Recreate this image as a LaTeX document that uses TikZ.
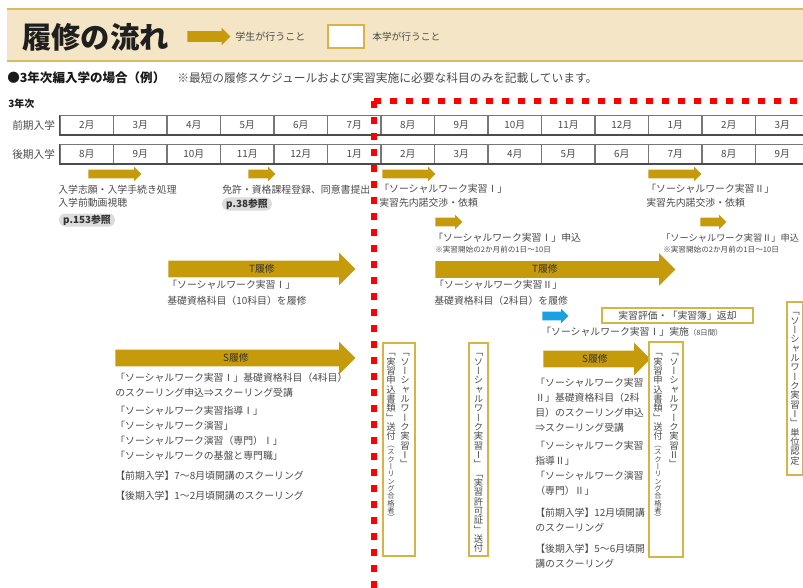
\documentclass[tikz,border=0pt]{standalone}
\usepackage{fontspec}
\setmainfont{Noto Sans CJK JP}
\newfontfamily\vjp[RawFeature=+vert]{Noto Sans CJK JP}
\usetikzlibrary{shapes.arrows}
\definecolor{gold}{HTML}{C59B0B}
\definecolor{boxgold}{HTML}{D8B447}
\definecolor{headbg}{HTML}{F3E5C5}
\definecolor{headline}{HTML}{D8BA62}
\definecolor{txtgray}{HTML}{4A4A4A}
\definecolor{cellgray}{HTML}{777777}
\definecolor{skyblue}{HTML}{1BA1E2}
\definecolor{pillgray}{HTML}{DCDCDC}
\definecolor{dotred}{HTML}{FF0000}
\newdimen\vcw
\vcw=7.2pt
\def\vstackloop#1{\ifx\relax#1\else\hbox to\vcw{\hss\rule[-0.12em]{0pt}{1em}#1\hss}\expandafter\vstackloop\fi}
\newcommand\vstk[1]{\vstackloop#1\relax}
\tikzset{
  txt/.style={anchor=west,inner sep=0pt,text=txtgray,font=\fontsize{7.4}{11.25}\selectfont,align=left},
  smalltxt/.style={anchor=west,inner sep=0pt,text=txtgray,font=\fontsize{5.7}{7}\selectfont},
  cell/.style={draw=cellgray,line width=0.9pt,minimum width=40.125pt,minimum height=14.25pt,inner sep=0pt,text=txtgray,font=\fontsize{7.4}{9}\selectfont},
  sarrow/.style={single arrow,fill=gold,draw=none,inner xsep=0pt,inner ysep=3pt,anchor=tail,minimum width=10.5pt,single arrow head extend=2.25pt},
  barrow/.style={single arrow,fill=gold,draw=none,inner xsep=0pt,inner ysep=6pt,anchor=tail,minimum width=24pt,single arrow head extend=6pt},
  arrtxt/.style={inner sep=0pt,text=black!80,font=\fontsize{7.4}{9}\selectfont},
  pill/.style={fill=pillgray,rounded corners=4pt,inner xsep=3pt,inner ysep=0pt,minimum height=9.75pt,text=black!80,font=\bfseries\fontsize{7.4}{9}\selectfont},
  goldbox/.style={draw=boxgold,line width=1.2pt,inner sep=0pt},
  vcol/.style={anchor=north,inner sep=0pt,text=txtgray,font=\vjp\fontsize{7}{7}\selectfont},
}
\begin{document}
\begin{tikzpicture}[x=0.75pt,y=-0.75pt]
\useasboundingbox (0,0) rectangle (803,588);
% header band
\fill[headbg] (7,9) rectangle (803,61);
\draw[headline,line width=1.5pt] (7,9) -- (803,9);
\draw[headline,line width=1.5pt] (7,61) -- (803,61);
\node[anchor=west,inner sep=0pt,font=\bfseries\fontsize{22}{24}\selectfont,text=black!88] (title) at (22,37) {履修の流れ};
\node[single arrow,fill=gold,draw=none,inner xsep=0pt,inner ysep=3.75pt,anchor=tail,minimum width=12.75pt,single arrow head extend=2.6pt,minimum height=32.25pt] (legarrow) at (187,36.5) {};
\node[anchor=west,inner sep=0pt,text=txtgray,font=\fontsize{7.5}{9}\selectfont] (legstudent) at (235,37) {学生が行うこと};
\node[draw=boxgold,fill=white,line width=1.5pt,minimum width=27pt,minimum height=17.25pt,inner sep=0pt] (legbox) at (346,36.5) {};
\node[anchor=west,inner sep=0pt,text=txtgray,font=\fontsize{7.3}{9}\selectfont] (leguniv) at (372,37) {本学が行うこと};
% subtitle
\node[anchor=west,inner sep=0pt,text=black!90,font=\bfseries\fontsize{9.4}{11}\selectfont] (case) at (7,78) {●3年次編入学の場合（例）};
\node[anchor=west,inner sep=0pt,text=txtgray,font=\fontsize{8.8}{11}\selectfont] (note) at (177,78) {※最短の履修スケジュールおよび実習実施に必要な科目のみを記載しています。};
\node[anchor=west,inner sep=0pt,text=black!90,font=\bfseries\fontsize{7.5}{9}\selectfont] (year) at (8,104) {3年次};
\node[anchor=west,inner sep=0pt,text=txtgray,font=\fontsize{8}{9}\selectfont] (zenki) at (12,125) {前期入学};
\node[anchor=west,inner sep=0pt,text=txtgray,font=\fontsize{8}{9}\selectfont] (kouki) at (12,154) {後期入学};
% month rows
\foreach \i/\m in {0/2,1/3,2/4,3/5,4/6,5/7,6/8,7/9,8/10,9/11,10/12,11/1,12/2,13/3}
  \node[cell] (a\i) at ({60+53.5*(\i+0.5)},125) {\m 月};
\foreach \i/\m in {0/8,1/9,2/10,3/11,4/12,5/1,6/2,7/3,8/4,9/5,10/6,11/7,12/8,13/9}
  \node[cell] (b\i) at ({60+53.5*(\i+0.5)},154) {\m 月};
\draw[black!70,line width=1.2pt] (a0.south west) -- (a13.south east);
\draw[black!70,line width=1.2pt] (b0.south west) -- (b13.south east);
\draw[black!70,line width=1.2pt] (a0.north west) -- (a0.south west);
\draw[black!70,line width=1.2pt] (b0.north west) -- (b0.south west);
% red dotted boundary
\coordinate (rc) at (374,101);
\coordinate (rb) at (374,590);
\coordinate (rr) at (806,101);
\draw[dotred,line width=5pt,dash pattern=on 5.25pt off 6.75pt] (rc) -- (rb);
\draw[dotred,line width=5pt,dash pattern=on 5.25pt off 6.75pt] (rc) -- (rr);
% small arrows
\node[sarrow,minimum height=39.75pt] (s1) at (88,174) {};
\node[sarrow,minimum height=20.25pt] (s2) at (248,174) {};
\node[sarrow,minimum height=39.75pt] (s3) at (382,174) {};
\node[sarrow,minimum height=39.75pt] (s4) at (648,174) {};
\node[sarrow,minimum height=20.25pt] (s5) at (435,222) {};
\node[sarrow,minimum height=19.5pt] (s6) at (700,222) {};
\node[sarrow,fill=skyblue,minimum height=19.5pt] (blue) at (542,316) {};
% texts near small arrows
\node[txt,anchor=north west,font=\fontsize{7.4}{9.75}\selectfont] (t1) at (58,185) {入学志願・入学手続き処理\\入学前動画視聴};
\node[pill] (p153) at (87,220) {p.153参照};
\node[txt] (t2) at (222,190) {免許・資格課程登録、同意書提出};
\node[pill] (p38) at (247,204) {p.38参照};
\node[txt,anchor=north west,font=\fontsize{7.4}{10.5}\selectfont] (t3) at (379,184) {「ソーシャルワーク実習Ⅰ」\\実習先内諾交渉・依頼};
\node[txt,anchor=north west,font=\fontsize{7.4}{10.5}\selectfont] (t4) at (646,184) {「ソーシャルワーク実習Ⅱ」\\実習先内諾交渉・依頼};
\node[txt] (t5) at (433,238) {「ソーシャルワーク実習Ⅰ」申込};
\node[smalltxt] (t5n) at (435,250) {※実習開始の2か月前の1日〜10日};
\node[txt,font=\fontsize{6.9}{9}\selectfont] (t6) at (661,238) {「ソーシャルワーク実習Ⅱ」申込};
\node[smalltxt] (t6n) at (663,250) {※実習開始の2か月前の1日〜10日};
% T arrows
\node[barrow,minimum height=140.25pt] (tl) at (168,269) {};
\node[arrtxt] (tlt) at (262,268.5) {T履修};
\node[barrow,minimum height=180pt] (tr) at (435,269.5) {};
\node[arrtxt] (trt) at (545,269) {T履修};
\node[txt,anchor=north west,font=\fontsize{7.4}{12}\selectfont] (tlx) at (167,280) {「ソーシャルワーク実習Ⅰ」\\基礎資格科目（10科目）を履修};
\node[txt,anchor=north west,font=\fontsize{7.4}{12}\selectfont] (trx) at (434,280) {「ソーシャルワーク実習Ⅱ」\\基礎資格科目（2科目）を履修};
% evaluation box and practice
\node[goldbox,minimum width=113.25pt,minimum height=11.25pt,text=txtgray,font=\fontsize{7.4}{9}\selectfont] (eval) at (677.5,315.5) {実習評価・「実習簿」返却};
\node[txt] (jissi) at (541,332) {「ソーシャルワーク実習Ⅰ」実施{\fontsize{5.5}{7}\selectfont（8日間）}};
% S arrows
\node[barrow,minimum height=180pt] (sl) at (115,358) {};
\node[arrtxt] (slt) at (236,357.5) {S履修};
\node[barrow,minimum height=80.25pt] (sr) at (543,359) {};
\node[arrtxt] (srt) at (595,358.5) {S履修};
% S left texts
\node[txt,anchor=north west] (sl1) at (115,373) {「ソーシャルワーク実習Ⅰ」基礎資格科目（4科目）\\のスクーリング申込⇒スクーリング受講};
\node[txt,anchor=north west] (sl2) at (115,406) {「ソーシャルワーク実習指導Ⅰ」\\「ソーシャルワーク演習」\\「ソーシャルワーク演習（専門）Ⅰ」\\「ソーシャルワークの基盤と専門職」};
\node[txt] (sl3) at (115,476) {【前期入学】7〜8月頃開講のスクーリング};
\node[txt] (sl4) at (115,496) {【後期入学】1〜2月頃開講のスクーリング};
% S right texts
\node[txt,anchor=north west] (sr1) at (535,378) {「ソーシャルワーク実習\\Ⅱ」基礎資格科目（2科\\目）のスクーリング申込\\⇒スクーリング受講};
\node[txt,anchor=north west] (sr2) at (535,441) {「ソーシャルワーク実習\\指導Ⅱ」\\「ソーシャルワーク演習\\（専門）Ⅱ」};
\node[txt,anchor=north west] (sr3) at (535,508) {【前期入学】12月頃開講\\のスクーリング};
\node[txt,anchor=north west] (sr4) at (535,544) {【後期入学】5〜6月頃開\\講のスクーリング};
% vertical boxes
\node[goldbox,minimum width=24pt,minimum height=159.75pt] (boxA) at (399,449.5) {};
\node[vcol] (boxA1) at (405,347.5) {\vbox{\offinterlineskip\vstk{「ソーシャルワーク実習Ⅰ」}}};
\node[vcol] (boxA2) at (391,347.5) {\vbox{\offinterlineskip\vstk{「実習申込書類」送付}\fontsize{5.5}{5.5}\selectfont\vstk{（スクーリング合格者）}}};
\node[goldbox,minimum width=14.25pt,minimum height=159.75pt] (boxB) at (478.5,449.5) {};
\node[vcol] (boxB1) at (478.5,347.5) {\vbox{\offinterlineskip\vstk{「ソーシャルワーク実習Ⅰ」「実習許可証」送付}}};
\node[goldbox,minimum width=25.5pt,minimum height=161.25pt] (boxC) at (666,449.5) {};
\node[vcol] (boxC1) at (674,347.5) {\vbox{\offinterlineskip\vstk{「ソーシャルワーク実習Ⅱ」}}};
\node[vcol] (boxC2) at (658,347.5) {\vbox{\offinterlineskip\vstk{「実習申込書類」送付}\fontsize{5.5}{5.5}\selectfont\vstk{（スクーリング合格者）}}};
\node[goldbox,minimum width=12pt,minimum height=129.75pt] (boxD) at (795,388.5) {};
\node[vcol] (boxD1) at (795,306.5) {\vbox{\offinterlineskip\vstk{「ソーシャルワーク実習Ⅰ」単位認定}}};
\end{tikzpicture}
\end{document}
